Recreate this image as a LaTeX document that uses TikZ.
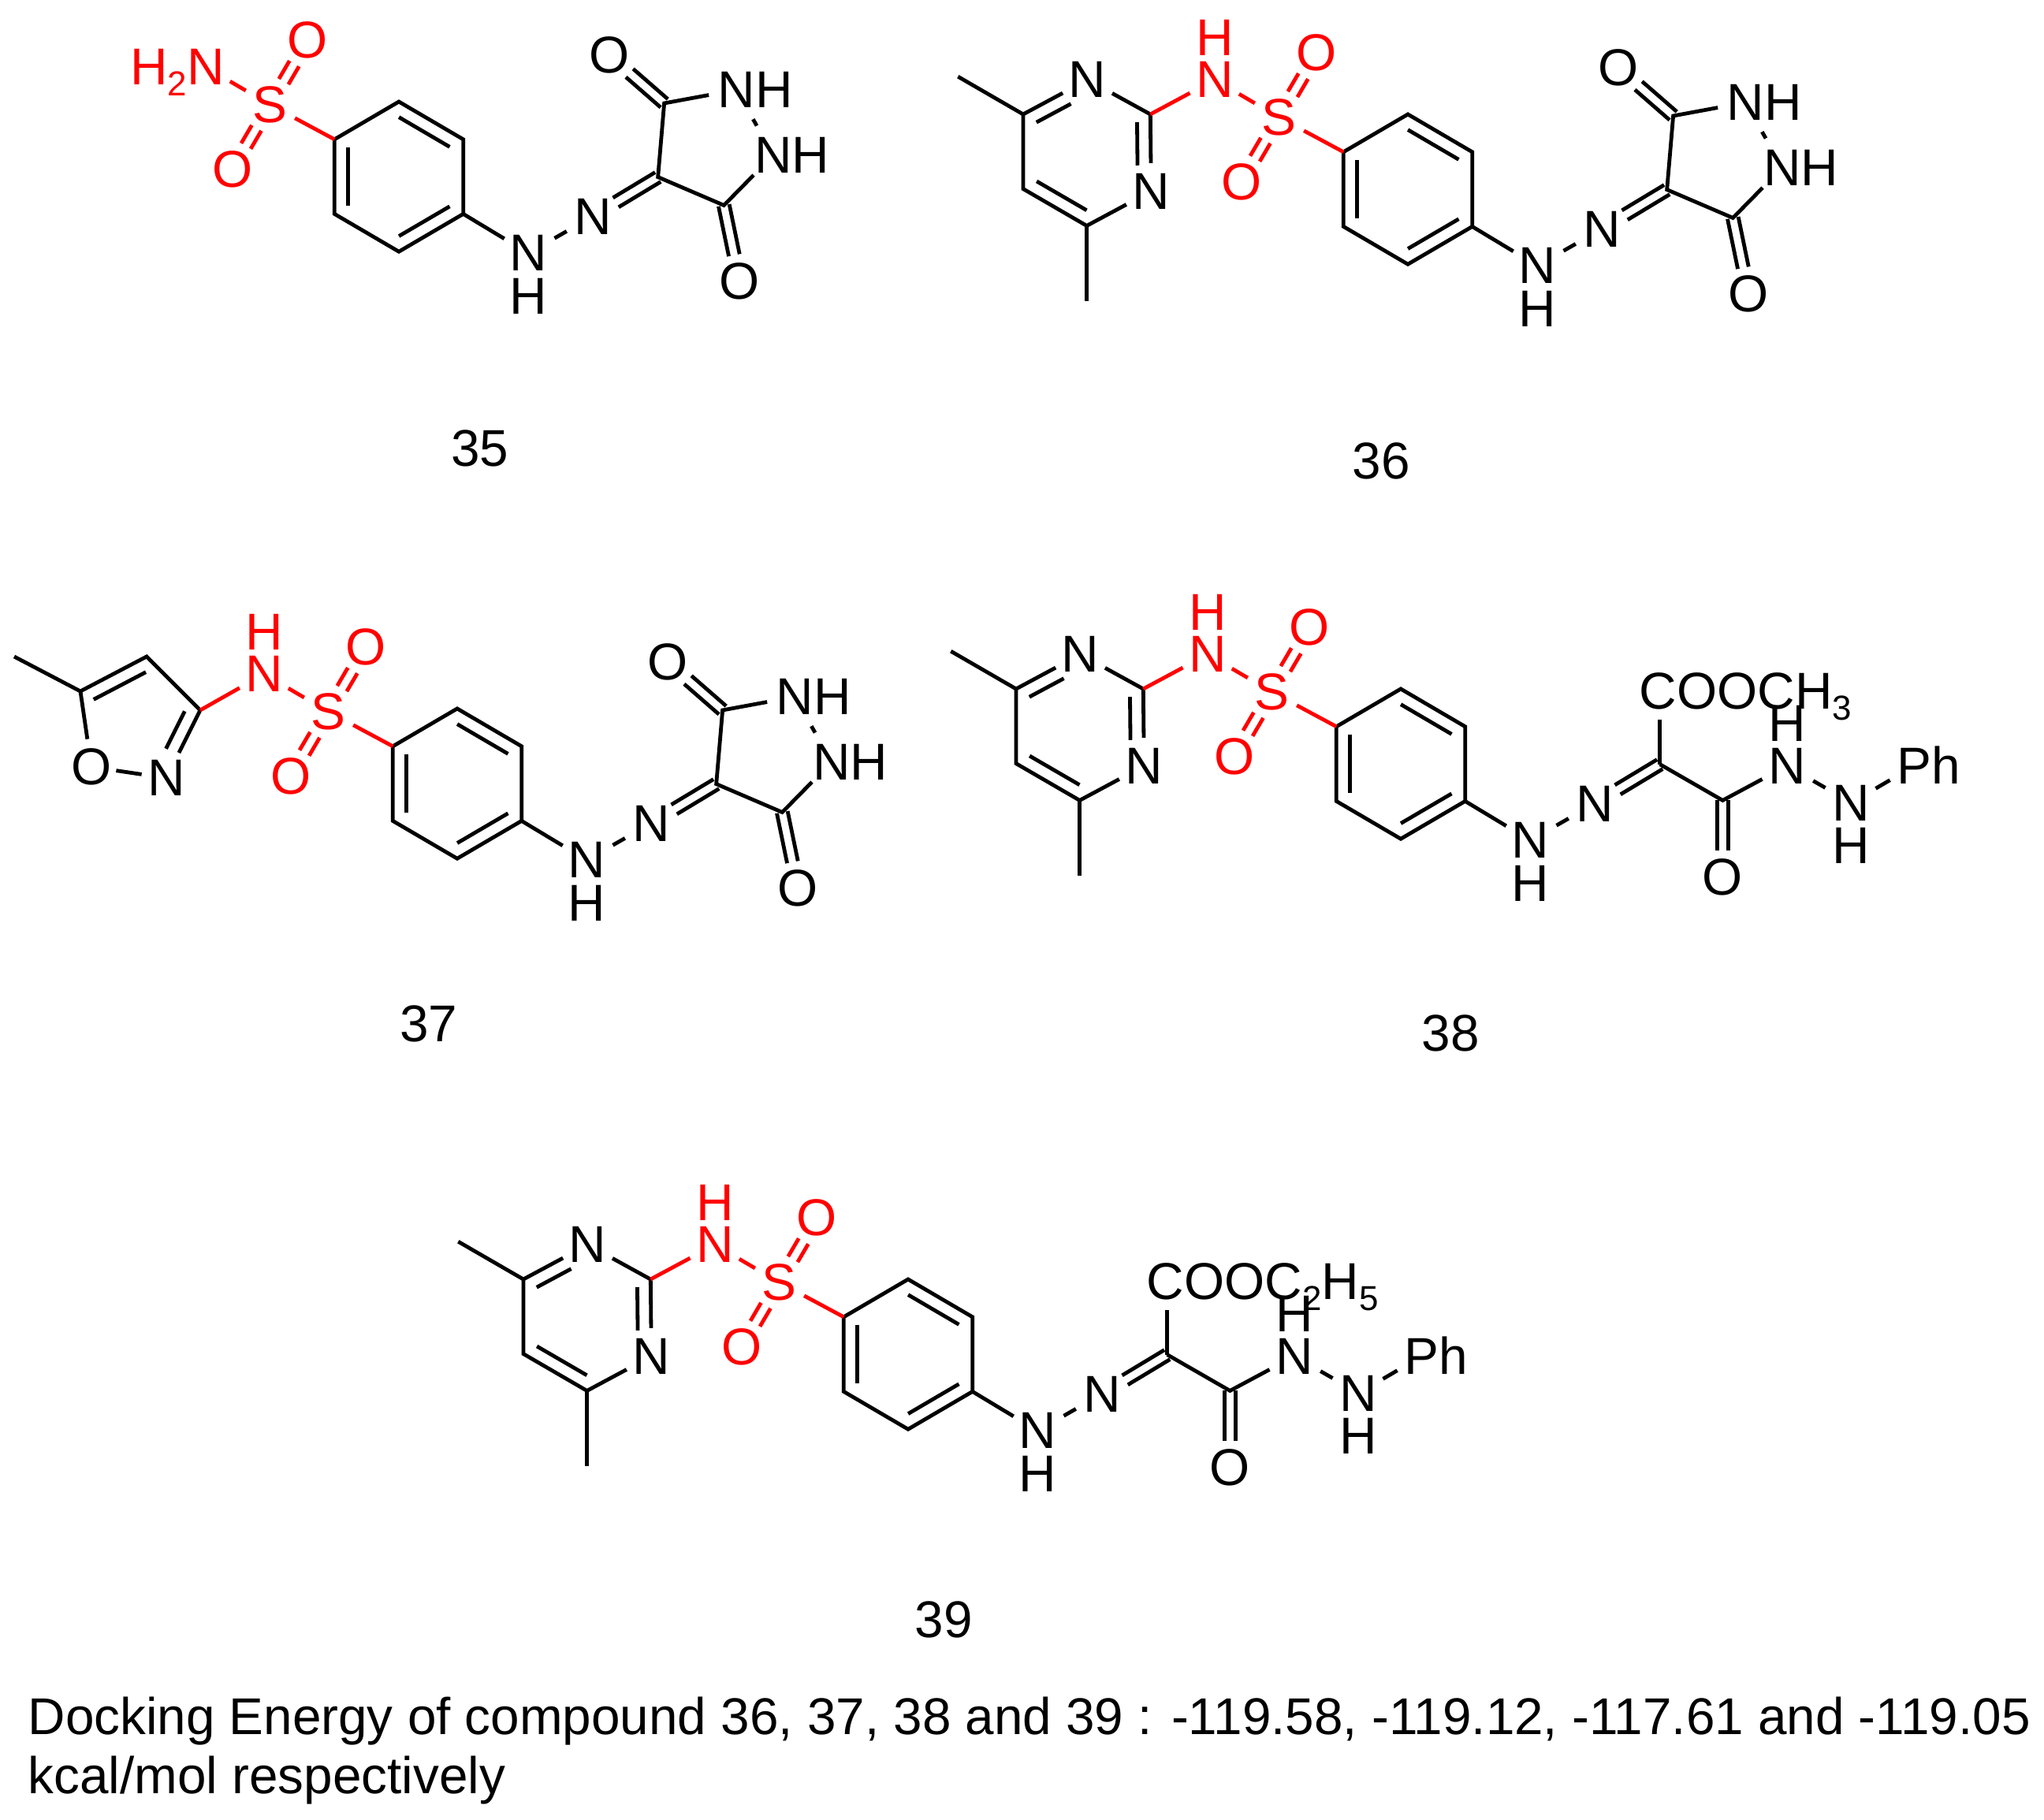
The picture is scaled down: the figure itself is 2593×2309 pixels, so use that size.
\documentclass[tikz,border=0pt]{standalone}
\usepackage{fontspec}
\setmainfont{Liberation Sans}
\usetikzlibrary{calc}
\newcommand\chemfont{\fontsize{18.7}{21.3}\selectfont}
\newcommand\capfont{\fontsize{18.66}{21.3}\selectfont}
\newcommand\sbs[1]{\raisebox{-.14cm}{\fontsize{12.5}{12.5}\selectfont #1}}
\tikzset{
  atom/.style={circle,inner sep=0pt,minimum size=.7cm,font=\chemfont},
  ratom/.style={atom,text=red},
  caption/.style={inner sep=0pt,font=\capfont},
  bond/.style={line width=.048cm,line join=miter,line cap=butt},
  rbond/.style={bond,draw=red},
  ibond/.style={bond,shorten <=.1cm,shorten >=.1cm},
  dshort/.style={shorten >=.34cm},
  dboth/.style={shorten <=.34cm,shorten >=.34cm},
  nnbond/.style={bond,shorten <=.025cm,shorten >=.025cm},
  molscope/.style={xscale=.996,yscale=.996}
}
% double bond: two lines either side of the axis
\newcommand\dbl[3][]{%
  \draw[bond,#1] ($(#2)!.07cm!90:(#3)$) -- ($(#3)!.07cm!-90:(#2)$);
  \draw[bond,#1] ($(#2)!.07cm!-90:(#3)$) -- ($(#3)!.07cm!90:(#2)$);}
% inner line of a ring double bond, on the left of a->b
\newcommand\ib[3][]{%
  \draw[ibond,#1] ($(#2)!.17cm!90:(#3)$) -- ($(#3)!.17cm!-90:(#2)$);}
% phenylene, hydrazone and SO2 core (origin: top carbon of the benzene ring)
\newcommand\molcore{%
  \coordinate (top) at (0,0);
  \coordinate (tl) at (-82,48);
  \coordinate (tr) at (82,48);
  \coordinate (br) at (82,143);
  \coordinate (bot) at (0,191);
  \coordinate (bl) at (-82,143);
  \coordinate (cn) at (330,96);
  \node[ratom] (s) at (-164,4) {S};
  \node[ratom] (ot) at (-116,-78) {O};
  \node[ratom] (ob) at (-212,86) {O};
  \node[atom] (na) at (165,193) {N};
  \node[atom] (ha) at (165,248) {H};
  \node[atom] (nb) at (247,146) {N};
  \draw[bond] (top) -- (tl) -- (bl) -- (bot) -- (br) -- (tr) -- cycle;
  \ib{tl}{bl}\ib{bot}{br}\ib{tr}{top}
  \draw[rbond] (s) -- (tl);
  \dbl[draw=red,dboth]{s}{ot}
  \dbl[draw=red,dboth]{s}{ob}
  \draw[bond] (br) -- (na);
  \draw[nnbond] (na) -- (nb);
  \dbl[dshort]{cn}{nb}}
% sulfonamide N-H
\newcommand\molnh{%
  \node[ratom] (nh) at (-246,-44) {N};
  \node[ratom] (hh) at (-246,-98) {H};
  \draw[rbond] (nh) -- (s);}
% 4,6-dimethylpyrimidine
\newcommand\molpyr{%
  \node[atom] (n3) at (-408,-44) {N};
  \node[atom] (n1) at (-327,98) {N};
  \coordinate (c2) at (-328,0);
  \coordinate (c6) at (-409,142);
  \coordinate (c5) at (-490,95);
  \coordinate (c4) at (-490,0);
  \coordinate (me1) at (-573,-48);
  \coordinate (me2) at (-409,238);
  \draw[bond] (n3) -- (c2);
  \draw[bond] (n1) -- (c2);
  \draw[bond] (n3) -- (c4) -- (c5) -- (c6) -- (n1);
  \draw[bond] (c4) -- (me1);
  \draw[bond] (c6) -- (me2);
  \ib[shorten <=.33cm]{n3}{c4}
  \ib{c5}{c6}
  \ib[shorten <=.33cm]{n1}{c2}
  \draw[rbond] (c2) -- (nh);}
% pyrazolidine-3,5-dione
\newcommand\moldione{%
  \coordinate (c3) at (338,2);
  \coordinate (c5r) at (414,132);
  \node[atom] (r1) at (430,-15) {N\rlap{\smash{H}}};
  \node[atom] (r2) at (477,68) {N\rlap{\smash{H}}};
  \node[atom] (oa) at (268,-59) {O};
  \node[atom] (oc) at (434,229) {O};
  \draw[bond] (r1) -- (c3) -- (cn) -- (c5r) -- (r2);
  \draw[bond,shorten <=.07cm,shorten >=.07cm] (r1) -- (r2);
  \dbl[dshort]{c3}{oa}
  \dbl[dshort]{c5r}{oc}}
% open chain: ester, amide, hydrazide, phenyl
\newcommand\molchain[1]{%
  \node[atom] (est) at (328,3) {C\rlap{\smash{#1}}};
  \coordinate (am) at (410,142);
  \node[atom] (oam) at (410,240) {O};
  \node[atom] (nc) at (492,98) {N};
  \node[atom] (hc) at (492,44) {H};
  \node[atom] (nd) at (574,145) {N};
  \node[atom] (hd) at (574,200) {H};
  \node[atom] (ph) at (654,98) {P\rlap{\smash{h}}};
  \draw[bond] (cn) -- (cn |- est.south);
  \draw[bond] (cn) -- (am) -- (nc);
  \dbl[dshort]{am}{oam}
  \draw[nnbond] (nc) -- (nd);
  \draw[bond] (nd) -- (ph);}
\begin{document}
\begin{tikzpicture}[x=.01cm,y=-.01cm]
\path[use as bounding box,fill=white] (0,0) rectangle (2593,2309);
% 35
\begin{scope}[shift={(506,129)},molscope,name prefix=a-]
  \molcore
  \node[ratom] (nh2) at (-246,-44) {\llap{\smash{H\sbs{2}}}N};
  \draw[rbond] (nh2) -- (s);
  \moldione
\end{scope}
\node[caption] (l35) at (609,569) {35};
% 36
\begin{scope}[shift={(1786,145)},molscope,name prefix=b-]
  \molcore
  \molnh
  \molpyr
  \moldione
\end{scope}
\node[caption] (l36) at (1752,585) {36};
% 37
\begin{scope}[shift={(580,899)},molscope,name prefix=c-]
  \molcore
  \molnh
  \moldione
\end{scope}
\coordinate (isme) at (18,833);
\coordinate (isc5) at (102,877);
\coordinate (isc4) at (186,833);
\coordinate (isc3) at (254,901);
\node[atom] (isn) at (211,987) {N};
\node[atom] (iso) at (116,973) {O};
\draw[bond] (isme) -- (isc5) -- (isc4) -- (isc3) -- (isn);
\draw[bond] (isc5) -- (iso);
\draw[bond,shorten <=-.04cm,shorten >=-.04cm] (iso) -- (isn);
\ib[shorten <=.33cm]{isn}{isc3}
\ib{isc4}{isc5}
\draw[rbond] (isc3) -- (c-nh);
\node[caption] (l37) at (544,1299) {37};
% 38
\begin{scope}[shift={(1777,874)},molscope,name prefix=d-]
  \molcore
  \molnh
  \molpyr
  \molchain{OOCH\sbs{3}}
\end{scope}
\node[caption] (l38) at (1840,1311) {38};
% 39
\begin{scope}[shift={(1152,1623)},molscope,name prefix=e-]
  \molcore
  \molnh
  \molpyr
  \molchain{OOC\sbs{2}H\sbs{5}}
\end{scope}
\node[caption] (l39) at (1197,2055) {39};
% caption text
\node[caption,anchor=base west] (cap1) at (35,2200) {Docking Energy of compound 36, 37, 38 and 39 : -119.58, -119.12, -117.61 and -119.05};
\node[caption,anchor=base west] (cap2) at (35,2275) {kcal/mol respectively};
\end{tikzpicture}
\end{document}
